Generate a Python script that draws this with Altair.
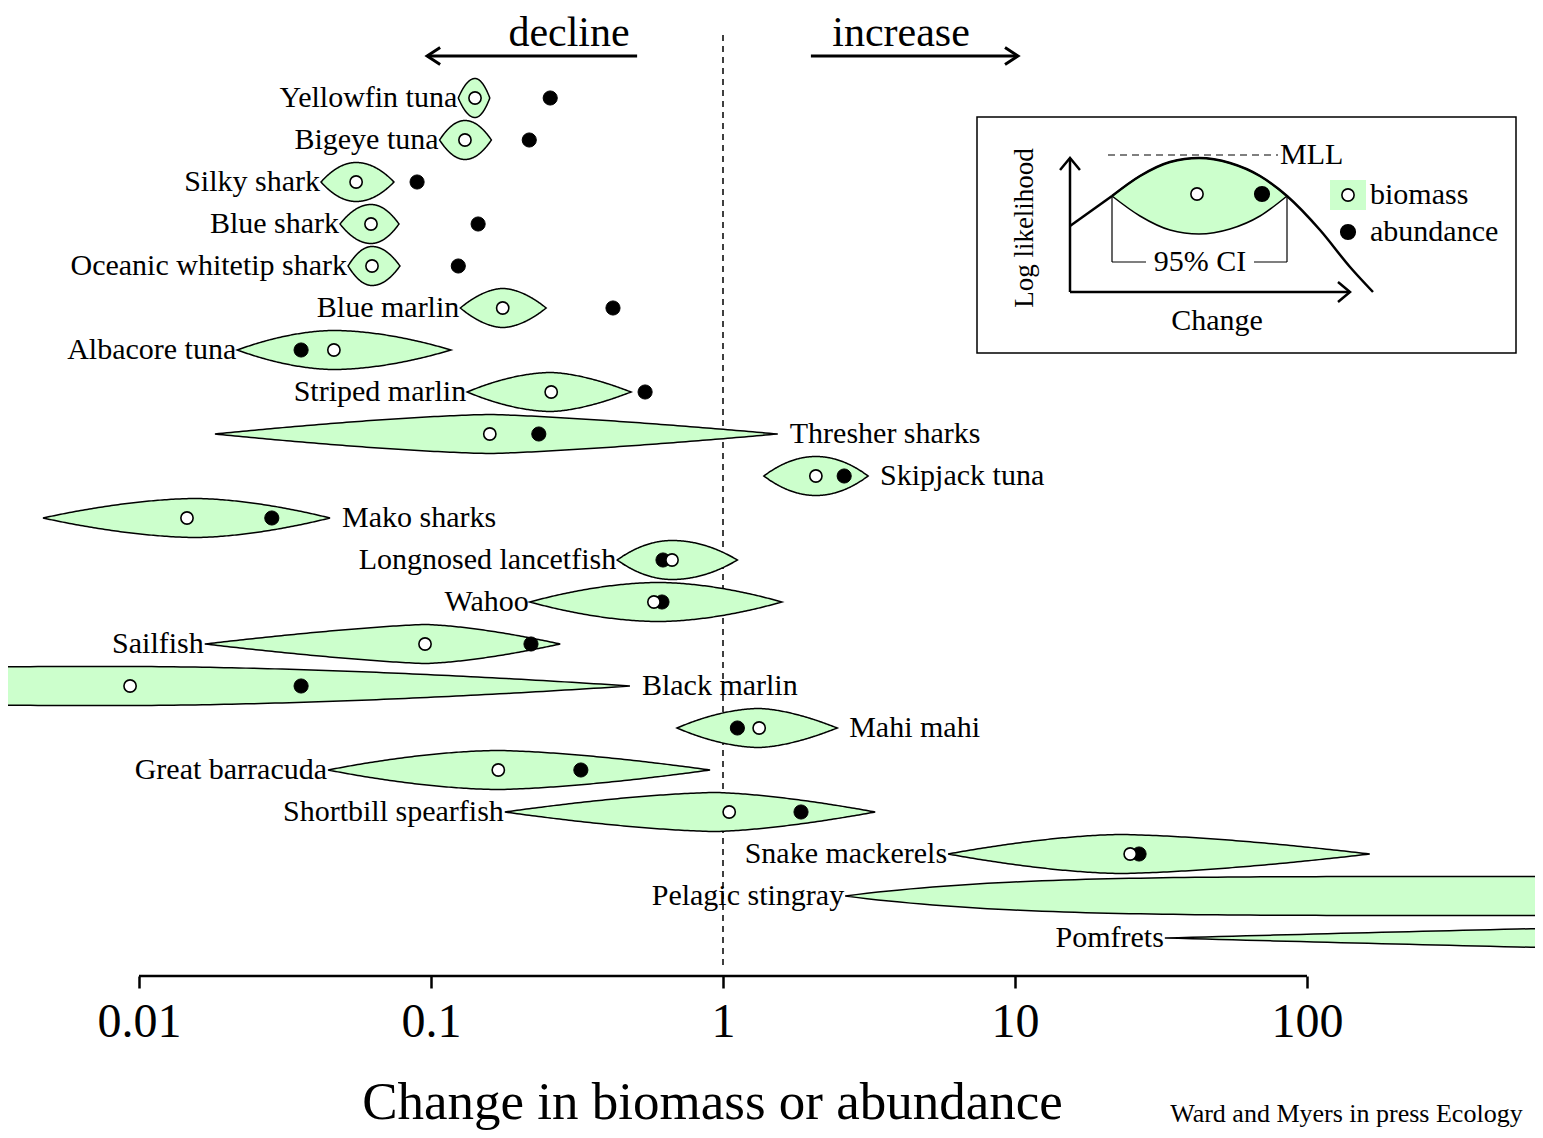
import altair as alt
import numpy as np
import pandas as pd

# ---------------- data ----------------
species = ["Yellowfin tuna", "Bigeye tuna", "Silky shark", "Blue shark",
           "Oceanic whitetip shark", "Blue marlin", "Albacore tuna", "Striped marlin",
           "Thresher sharks", "Skipjack tuna", "Mako sharks", "Longnosed lancetfish",
           "Wahoo", "Sailfish", "Black marlin", "Mahi mahi", "Great barracuda",
           "Shortbill spearfish", "Snake mackerels", "Pelagic stingray", "Pomfrets"]
ci_low = [0.124, 0.107, 0.042, 0.0488, 0.052, 0.126, 0.0217, 0.133, 0.0182, 1.38,
          0.00469, 0.434, 0.218, 0.0168, 0.000143, 0.696, 0.0444, 0.179, 5.9, 2.62, 32.6]
ci_high = [0.159, 0.161, 0.0747, 0.0777, 0.0783, 0.248, 0.117, 0.484, 1.54, 3.14,
           0.0451, 1.12, 1.59, 0.277, 0.480, 2.46, 0.903, 3.32, 164.0, 5.5e5, 5.9e6]
biomass = [0.1415, 0.1307, 0.0554, 0.0623, 0.0628, 0.176, 0.0465, 0.258, 0.159, 2.08,
           0.0146, 0.669, 0.580, 0.0954, 0.00932, 1.33, 0.170, 1.05, 24.8, 1007.0, 5.2e4]
abundance = [0.256, 0.217, 0.0896, 0.145, 0.124, 0.420, 0.0359, 0.541, 0.234, 2.60,
             0.0285, 0.623, 0.618, 0.220, 0.0359, 1.12, 0.326, 1.85, 26.6, 1200.0, 6.0e4]
widest = [0.1415, 0.1307, 0.0554, 0.0623, 0.0628, 0.176, 0.0465, 0.258, 0.159, 2.08,
          0.0156, 0.669, 0.600, 0.0954, 0.00932, 1.33, 0.170, 0.939, 22.9, 1007.0, 5.2e4]
shape_left = [2, 2, 2, 2, 2, 1.8, 1.8, 1.8, 1.4, 2, 1.7, 2, 1.8, 1.3, 3, 1.8, 1.7, 1.5, 1.6, 5, 1.3]
shape_right = [2, 2, 2, 2, 2, 1.8, 1.8, 1.6, 1.3, 2, 1.7, 2, 1.8, 1.5, 1.7, 1.6, 1.5, 1.5, 1.5, 2, 2]
label_side = (["left"] * 8 + ["right"] * 3 + ["left"] * 3 + ["right"] * 2 + ["left"] * 5)

tick_values = [0.01, 0.1, 1, 10, 100]

# inset schematic (units relative to the inset axes corner)
curve_x = [0, 42, 42, 70, 100, 129, 160, 190, 217, 250, 280, 303]
curve_y = [66, 96, 96, 116, 130, 134, 129, 116, 96, 62, 25, 0]
curve_seg = [0, 0, 1, 1, 1, 1, 1, 1, 1, 1, 1, 1]
lens_x = [42, 70, 100, 129, 160, 190, 217]
lens_top = [96, 116, 130, 134, 129, 116, 96]
lens_bottom = [96, 76, 62, 58, 63, 76, 96]

GREEN = "#ccffcc"
SERIF = "Liberation Serif"
HALF = 19.5 / 42.0

W, H = 1527, 968

# ---------------- build tables ----------------
rows = []
for i, s in enumerate(species):
    lo, hi, pk = np.log10(ci_low[i]), np.log10(ci_high[i]), np.log10(widest[i])
    us = np.concatenate([np.linspace(lo, pk, 70), np.linspace(pk, hi, 70)[1:]])
    for u in us:
        if u <= pk:
            t = (pk - u) / (pk - lo)
            w = 1 - t ** shape_left[i]
        else:
            t = (u - pk) / (hi - pk)
            w = 1 - t ** shape_right[i]
        w = max(w, 0.0)
        rows.append(dict(species=s, x=10 ** u, top=i - HALF * w, bot=i + HALF * w))
lens_df = pd.DataFrame(rows)

pts = pd.DataFrame(dict(species=species, idx=list(range(len(species))),
                        biomass=biomass, abundance=abundance,
                        lo=ci_low, hi=ci_high, side=label_side))
left_lab = pts[pts.side == "left"]
right_lab = pts[pts.side == "right"]

xscale = alt.Scale(type="log", domain=[10 ** -2.44863, 10 ** 2.78082], nice=False)
yscale = alt.Scale(domain=[-2.1429, 20.9048], reverse=True, nice=False, zero=False)
xaxis = alt.Axis(values=tick_values, format="~g", domain=False, grid=False,
                 ticks=True, tickSize=12, tickWidth=2.5, tickColor="black",
                 labelFont=SERIF, labelFontSize=48, labelColor="black",
                 labelPadding=48, labelBaseline="alphabetic", labelFlush=False,
                 labelOverlap=False,
                 title="Change in biomass or abundance", titleFont=SERIF,
                 titleFontSize=53, titleFontWeight="normal", titleColor="black",
                 titleX=704, titleY=142, titleBaseline="alphabetic")


def X(field):
    return alt.X(field, type="quantitative", scale=xscale, axis=xaxis)


def Y(field):
    return alt.Y(field, type="quantitative", scale=yscale, axis=None)


# reference line at no change (drawn underneath the lenses)
ref_df = pd.DataFrame(dict(x=[1.0], y1=[-1.5], y2=[20.64]))
ref = alt.Chart(ref_df).mark_rule(color="black", strokeWidth=1.5,
                                  strokeDash=[6, 5]).encode(x=X("x"), y=Y("y1"), y2="y2:Q")

lens = alt.Chart(lens_df).mark_area(fill=GREEN, stroke="black", strokeWidth=1.5,
                                    clip=True, interpolate="linear").encode(
    x=X("x"), y=Y("top"), y2="bot:Q", detail="species:N")

abd = alt.Chart(pts).mark_point(shape="circle", filled=True, fill="black",
                                stroke="black", strokeWidth=1, size=200,
                                opacity=1, clip=True).encode(x=X("abundance"), y=Y("idx"))
bio = alt.Chart(pts).mark_point(shape="circle", filled=True, fill="white",
                                stroke="black", strokeWidth=1.6, size=150,
                                opacity=1, clip=True).encode(x=X("biomass"), y=Y("idx"))

lab_l = alt.Chart(left_lab).mark_text(align="right", baseline="middle", dx=-1,
                                      font=SERIF, fontSize=30, color="black").encode(
    x=X("lo"), y=Y("idx"), text="species:N")
lab_r = alt.Chart(right_lab).mark_text(align="left", baseline="middle", dx=12,
                                       font=SERIF, fontSize=30, color="black").encode(
    x=X("hi"), y=Y("idx"), text="species:N")

# axis baseline from 0.01 to 100
axis_df = pd.DataFrame(dict(a=[0.01], b=[100.0], y=[20.9048]))
axis_line = alt.Chart(axis_df).mark_rule(color="black", strokeWidth=2.5).encode(
    x=X("a"), x2="b:Q", y=Y("y"))

# decline / increase arrows
ARR_Y = -1.0
arr_df = pd.DataFrame(dict(a=[0.508, 2.0], b=[0.097, 10.24], y=[ARR_Y, ARR_Y]))
arrows = alt.Chart(arr_df).mark_rule(color="black", strokeWidth=3).encode(
    x=X("a"), x2="b:Q", y=Y("y"))
head_l = alt.Chart(pd.DataFrame(dict(x=[0.097], y=[ARR_Y]))).mark_point(
    shape="M1,-0.65L0,0L1,0.65", size=676, filled=False, stroke="black",
    strokeWidth=3, opacity=1).encode(x=X("x"), y=Y("y"))
head_r = alt.Chart(pd.DataFrame(dict(x=[10.24], y=[ARR_Y]))).mark_point(
    shape="M-1,-0.65L0,0L-1,0.65", size=676, filled=False, stroke="black",
    strokeWidth=3, opacity=1).encode(x=X("x"), y=Y("y"))
top_txt = alt.Chart(pd.DataFrame(dict(x=[0.297, 4.07], y=[-1.2381, -1.2381],
                                      t=["decline", "increase"]))).mark_text(
    align="center", baseline="alphabetic", font=SERIF, fontSize=42, color="black").encode(
    x=X("x"), y=Y("y"), text="t:N")
cite = alt.Chart(pd.DataFrame(dict(x=[34.0], y=[24.381], t=["Ward and Myers in press Ecology"]))).mark_text(
    align="left", baseline="alphabetic", font=SERIF, fontSize=26, color="black").encode(
    x=X("x"), y=Y("y"), text="t:N")

main = alt.layer(ref, lens, abd, bio, lab_l, lab_r, axis_line, arrows, head_l,
                 head_r, top_txt, cite)

# ---------------- inset schematic ----------------
sxs = alt.Scale(domain=[-1062, 465], nice=False, zero=False)
sys_ = alt.Scale(domain=[-684, 284], nice=False, zero=False)


def SX(field):
    return alt.X(field, type="quantitative", scale=sxs, axis=None)


def SY(field):
    return alt.Y(field, type="quantitative", scale=sys_, axis=None)


box = alt.Chart(pd.DataFrame(dict(a=[-93], b=[446], c=[-61], d=[175]))).mark_rect(
    fill="white", stroke="black", strokeWidth=1.5).encode(
    x=SX("a"), x2="b:Q", y=SY("c"), y2="d:Q")
ilens = alt.Chart(pd.DataFrame(dict(x=lens_x, t=lens_top, b=lens_bottom))).mark_area(
    fill=GREEN, stroke="black", strokeWidth=1.5, interpolate="monotone").encode(
    x=SX("x"), y=SY("t"), y2="b:Q")
icurve = alt.Chart(pd.DataFrame(dict(x=curve_x, y=curve_y, g=curve_seg))).mark_line(
    color="black", strokeWidth=2.5, interpolate="monotone").encode(
    x=SX("x"), y=SY("y"), detail="g:N")
seg_df = pd.DataFrame(dict(x1=[0, 0, 42, 217, 42, 184], y1=[0, 0, 96, 96, 30, 30],
                           x2=[0, 280, 42, 217, 76, 217], y2=[134, 0, 30, 30, 30, 30],
                           w=["a", "a", "c", "c", "c", "c"]))
iaxes = alt.Chart(seg_df[seg_df.w == "a"]).mark_rule(color="black", strokeWidth=2.5).encode(
    x=SX("x1"), y=SY("y1"), x2="x2:Q", y2="y2:Q")
ici = alt.Chart(seg_df[seg_df.w == "c"]).mark_rule(color="black", strokeWidth=1.2).encode(
    x=SX("x1"), y=SY("y1"), x2="x2:Q", y2="y2:Q")
imll = alt.Chart(pd.DataFrame(dict(a=[38], b=[208], y=[137]))).mark_rule(
    color="black", strokeWidth=1.2, strokeDash=[7, 5]).encode(x=SX("a"), x2="b:Q", y=SY("y"))
ihead_up = alt.Chart(pd.DataFrame(dict(x=[0], y=[134]))).mark_point(
    shape="M-0.83,1L0,0L0.83,1", size=576, filled=False, stroke="black",
    strokeWidth=2.5, opacity=1).encode(x=SX("x"), y=SY("y"))
ihead_rt = alt.Chart(pd.DataFrame(dict(x=[280], y=[0]))).mark_point(
    shape="M-1,-0.83L0,0L-1,0.83", size=576, filled=False, stroke="black",
    strokeWidth=2.5, opacity=1).encode(x=SX("x"), y=SY("y"))
isq = alt.Chart(pd.DataFrame(dict(a=[260], b=[296], c=[82], d=[112]))).mark_rect(
    fill=GREEN).encode(x=SX("a"), x2="b:Q", y=SY("c"), y2="d:Q")
iopen = alt.Chart(pd.DataFrame(dict(x=[127, 278], y=[98, 97]))).mark_point(
    shape="circle", filled=True, fill="white", stroke="black", strokeWidth=1.6,
    size=150, opacity=1).encode(x=SX("x"), y=SY("y"))
ifill = alt.Chart(pd.DataFrame(dict(x=[192, 278], y=[98, 60]))).mark_point(
    shape="circle", filled=True, fill="black", stroke="black", size=200,
    opacity=1).encode(x=SX("x"), y=SY("y"))
itxt_l = alt.Chart(pd.DataFrame(dict(x=[210, 300, 300], y=[137, 97, 60],
                                     t=["MLL", "biomass", "abundance"]))).mark_text(
    align="left", baseline="middle", font=SERIF, fontSize=30, color="black").encode(
    x=SX("x"), y=SY("y"), text="t:N")
itxt_c = alt.Chart(pd.DataFrame(dict(x=[130, 147], y=[30, -29],
                                     t=["95% CI", "Change"]))).mark_text(
    align="center", baseline="middle", font=SERIF, fontSize=30, color="black").encode(
    x=SX("x"), y=SY("y"), text="t:N")
itxt_v = alt.Chart(pd.DataFrame(dict(x=[-45], y=[64], t=["Log likelihood"]))).mark_text(
    align="center", baseline="middle", angle=270, font=SERIF, fontSize=27,
    color="black").encode(x=SX("x"), y=SY("y"), text="t:N")

inset = alt.layer(box, ilens, icurve, iaxes, ici, imll, ihead_up, ihead_rt, isq,
                  iopen, ifill, itxt_l, itxt_c, itxt_v)

chart = alt.layer(main, inset).resolve_scale(x="independent", y="independent").properties(
    width=W, height=H,
    autosize=alt.AutoSizeParams(type="none"),
    padding={"left": 0, "top": 0, "right": 0, "bottom": 154},
    background="white",
).configure_view(stroke=None)

chart.save("out.html", embed_options={"renderer": "svg", "actions": False})
